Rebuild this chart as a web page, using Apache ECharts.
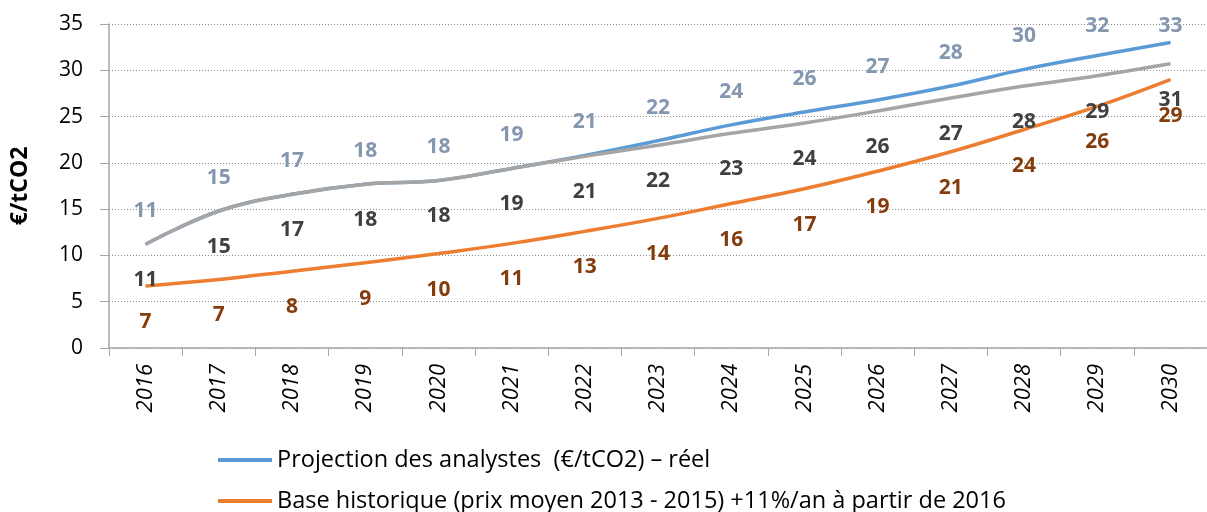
<!DOCTYPE html>
<html>
<head>
<meta charset="utf-8">
<title>Prix du CO2</title>
<script src="https://cdn.jsdelivr.net/npm/echarts@6/dist/echarts.min.js"></script>
<style>
  html, body { margin: 0; padding: 0; background: #fff; }
  #main { width: 1207px; height: 512px; }
</style>
</head>
<body>
<div id="main"></div>
<script>
// années
var years = ['2016', '2017', '2018', '2019', '2020', '2021', '2022', '2023', '2024', '2025', '2026', '2027', '2028', '2029', '2030'];

// Projection des analystes (€/tCO2) – réel
var projection = [11.2, 14.8, 16.6, 17.7, 18.1, 19.4, 20.8, 22.4, 24.1, 25.5, 26.8, 28.3, 30.1, 31.6, 33.0];
// Base historique +11%/an
var baseHisto = [6.7, 7.4, 8.3, 9.2, 10.2, 11.3, 12.6, 14.0, 15.6, 17.2, 19.1, 21.2, 23.6, 26.1, 29.0];
// troisième courbe (grise, hors légende)
var grise = [11.2, 14.8, 16.6, 17.7, 18.1, 19.4, 20.7, 21.9, 23.2, 24.3, 25.6, 27.0, 28.3, 29.4, 30.7];

var yTicks = [0, 5, 10, 15, 20, 25, 30, 35];

var nomProj = 'Projection des analystes  (€/tCO2) – réel';
var nomBase = 'Base historique (prix moyen 2013 - 2015) +11%/an à partir de 2016';

var font = '"Open Sans", "DejaVu Sans", sans-serif';

var chart = echarts.init(document.getElementById('main'));

//étiquette arrondie
var etiquette = function(color, dy){
  return {
    show: true,
    position: 'inside',
    offset: [0, dy],
    color: color,
    fontFamily: font,
    fontSize: 21,
    fontWeight: 'bold',
    formatter: function(p){ return Math.round(p.value); }
  };
};

var serie = function(name, data, color, labelColor, dy){
  return {
    name: name,
    type: 'line',
    data: data,
    smooth: 0.4,
    symbol: 'circle',
    symbolSize: 1,
    itemStyle: { color: color },
    lineStyle: { color: color, width: 3.5 },
    label: etiquette(labelColor, dy),
    emphasis: { disabled: true },
    animation: false
  };
};

//une légende par ligne
var legende = function(nom, top){
  return {
    data: [nom],
    left: 218,
    top: top,
    padding: 0,
    icon: 'rect',
    itemWidth: 54,
    itemHeight: 4,
    textStyle: { fontFamily: font, fontSize: 23.5, color: '#000', lineHeight: 28 }
  };
};

var sBleu = serie(nomProj, projection, '#5B9BD5', '#8497B0', 0);
//étiquettes au-dessus de la courbe, sans sortir du cadre
sBleu.labelLayout = function(p){
  var cy = p.rect.y + p.rect.height / 2;
  var cible = Math.max(cy - 33, 26);
  return { dy: cible - cy };
};

chart.setOption({
  backgroundColor: '#fff',
  textStyle: { fontFamily: font },
  grid: { left: 109, right: -12, top: 24, bottom: 164, containLabel: false },
  legend: [legende(nomProj, 446), legende(nomBase, 487)],
  xAxis: {
    type: 'category',
    data: years,
    boundaryGap: true,
    axisLine: { lineStyle: { color: '#a6a6a6', width: 1.5 } },
    axisTick: { show: true, interval: 0, length: 8, lineStyle: { color: '#a6a6a6' } },
    axisLabel: {
      interval: 0,
      rotate: 90,
      margin: 16,
      fontFamily: font,
      fontSize: 22,
      fontStyle: 'italic',
      color: '#000'
    }
  },
  yAxis: {
    type: 'value',
    min: yTicks[0],
    max: yTicks[yTicks.length - 1],
    interval: 5,
    name: '€/tCO2',
    nameLocation: 'middle',
    nameRotate: 90,
    nameGap: 77,
    nameTextStyle: { fontFamily: font, fontSize: 23, fontWeight: 'bold', color: '#000' },
    axisLine: { show: true, lineStyle: { color: '#a6a6a6', width: 1.5 } },
    axisTick: { show: true, length: 9, lineStyle: { color: '#a6a6a6' } },
    axisLabel: { margin: 26, fontFamily: font, fontSize: 21, color: '#000' },
    splitLine: { show: true, lineStyle: { color: '#8c8c8c', type: [1, 2], width: 1 } }
  },
  series: [
    sBleu,
    serie(nomBase, baseHisto, '#ED7D31', '#843C0C', 36),
    serie('Scénario', grise, '#A5A5A5', '#404040', 36)
  ]
});
</script>
</body>
</html>
